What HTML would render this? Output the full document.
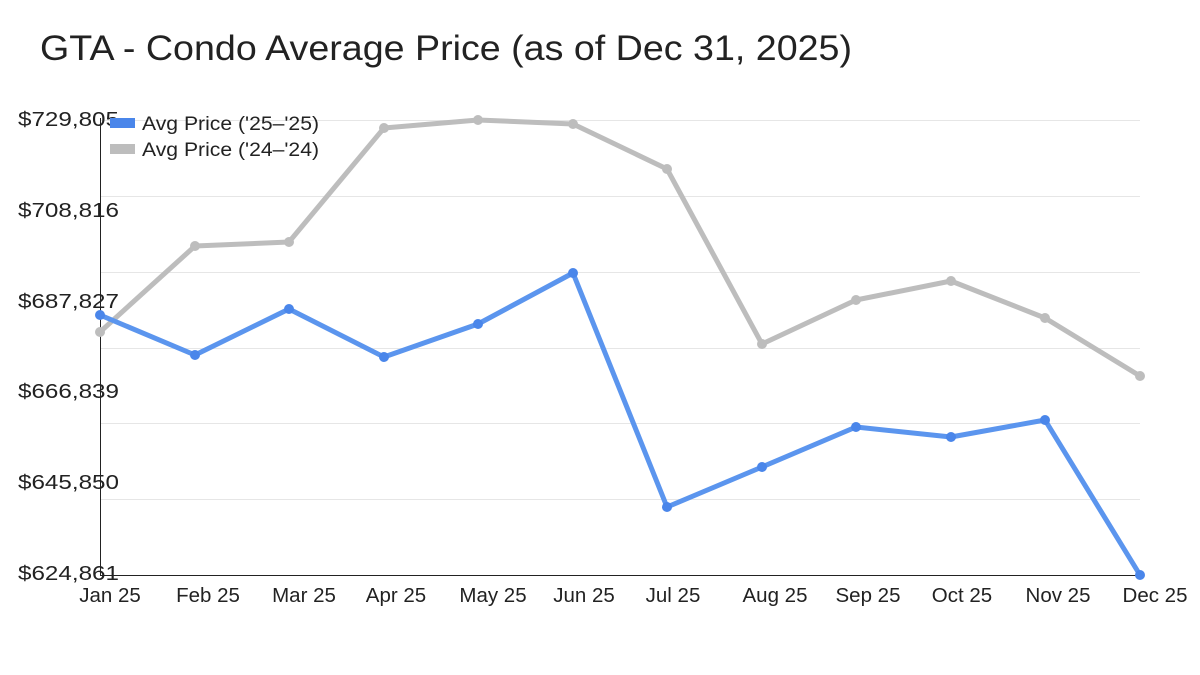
<!DOCTYPE html>
<html><head><meta charset="utf-8"><style>
html,body{margin:0;padding:0;background:#fff;}
svg{display:block;font-family:"Liberation Sans",sans-serif;}
</style></head><body>
<svg width="1200" height="675" viewBox="0 0 1200 675">
<rect width="1200" height="675" fill="#fff"/>
<text x="40" y="60" font-size="35" fill="#222" textLength="812" lengthAdjust="spacingAndGlyphs">GTA - Condo Average Price (as of Dec 31, 2025)</text>
<g stroke="#e6e6e6" stroke-width="1">
<line x1="100" x2="1140" y1="120.5" y2="120.5"/>
<line x1="100" x2="1140" y1="196.5" y2="196.5"/>
<line x1="100" x2="1140" y1="272.5" y2="272.5"/>
<line x1="100" x2="1140" y1="348.5" y2="348.5"/>
<line x1="100" x2="1140" y1="423.5" y2="423.5"/>
<line x1="100" x2="1140" y1="499.5" y2="499.5"/>
</g>
<line x1="100.5" x2="100.5" y1="118" y2="575" stroke="#222" stroke-width="1"/>
<line x1="100" x2="1140" y1="575.5" y2="575.5" stroke="#222" stroke-width="1"/>
<g font-size="20.5" fill="#222">
<text x="18" y="126" textLength="101" lengthAdjust="spacingAndGlyphs">$729,805</text>
<text x="18" y="217" textLength="101" lengthAdjust="spacingAndGlyphs">$708,816</text>
<text x="18" y="308" textLength="101" lengthAdjust="spacingAndGlyphs">$687,827</text>
<text x="18" y="398" textLength="101" lengthAdjust="spacingAndGlyphs">$666,839</text>
<text x="18" y="489" textLength="101" lengthAdjust="spacingAndGlyphs">$645,850</text>
<text x="18" y="580" textLength="101" lengthAdjust="spacingAndGlyphs">$624,861</text>
</g>
<g font-size="20.5" fill="#222" text-anchor="middle">
<text x="110" y="602">Jan 25</text><text x="208" y="602">Feb 25</text><text x="304" y="602">Mar 25</text>
<text x="396" y="602">Apr 25</text><text x="493" y="602">May 25</text><text x="584" y="602">Jun 25</text>
<text x="673" y="602">Jul 25</text><text x="775" y="602">Aug 25</text><text x="868" y="602">Sep 25</text>
<text x="962" y="602">Oct 25</text><text x="1058" y="602">Nov 25</text><text x="1155" y="602">Dec 25</text>
</g>
<polyline fill="none" stroke="#bdbdbd" stroke-width="5" stroke-linejoin="round" points="100,332 195,246 289,242 384,128 478,120 573,124 667,169 762,344 856,300 951,281 1045,318 1140,376"/>
<g fill="#bdbdbd">
<circle cx="100" cy="332" r="5"/><circle cx="195" cy="246" r="5"/><circle cx="289" cy="242" r="5"/><circle cx="384" cy="128" r="5"/><circle cx="478" cy="120" r="5"/><circle cx="573" cy="124" r="5"/><circle cx="667" cy="169" r="5"/><circle cx="762" cy="344" r="5"/><circle cx="856" cy="300" r="5"/><circle cx="951" cy="281" r="5"/><circle cx="1045" cy="318" r="5"/><circle cx="1140" cy="376" r="5"/>
</g>
<polyline fill="none" stroke="#5b95ee" stroke-width="5" stroke-linejoin="round" points="100,315 195,355 289,309 384,357 478,324 573,273 667,507 762,467 856,427 951,437 1045,420 1140,575"/>
<g fill="#4a86ea">
<circle cx="100" cy="315" r="5"/><circle cx="195" cy="355" r="5"/><circle cx="289" cy="309" r="5"/><circle cx="384" cy="357" r="5"/><circle cx="478" cy="324" r="5"/><circle cx="573" cy="273" r="5"/><circle cx="667" cy="507" r="5"/><circle cx="762" cy="467" r="5"/><circle cx="856" cy="427" r="5"/><circle cx="951" cy="437" r="5"/><circle cx="1045" cy="420" r="5"/><circle cx="1140" cy="575" r="5"/>
</g>
<rect x="110" y="118" width="25" height="10" fill="#4a86ea"/>
<rect x="110" y="144" width="25" height="10" fill="#bdbdbd"/>
<g font-size="19.5" fill="#222">
<text x="142" y="130" textLength="177" lengthAdjust="spacingAndGlyphs">Avg Price ('25–'25)</text>
<text x="142" y="156" textLength="177" lengthAdjust="spacingAndGlyphs">Avg Price ('24–'24)</text>
</g>
</svg>
</body></html>
